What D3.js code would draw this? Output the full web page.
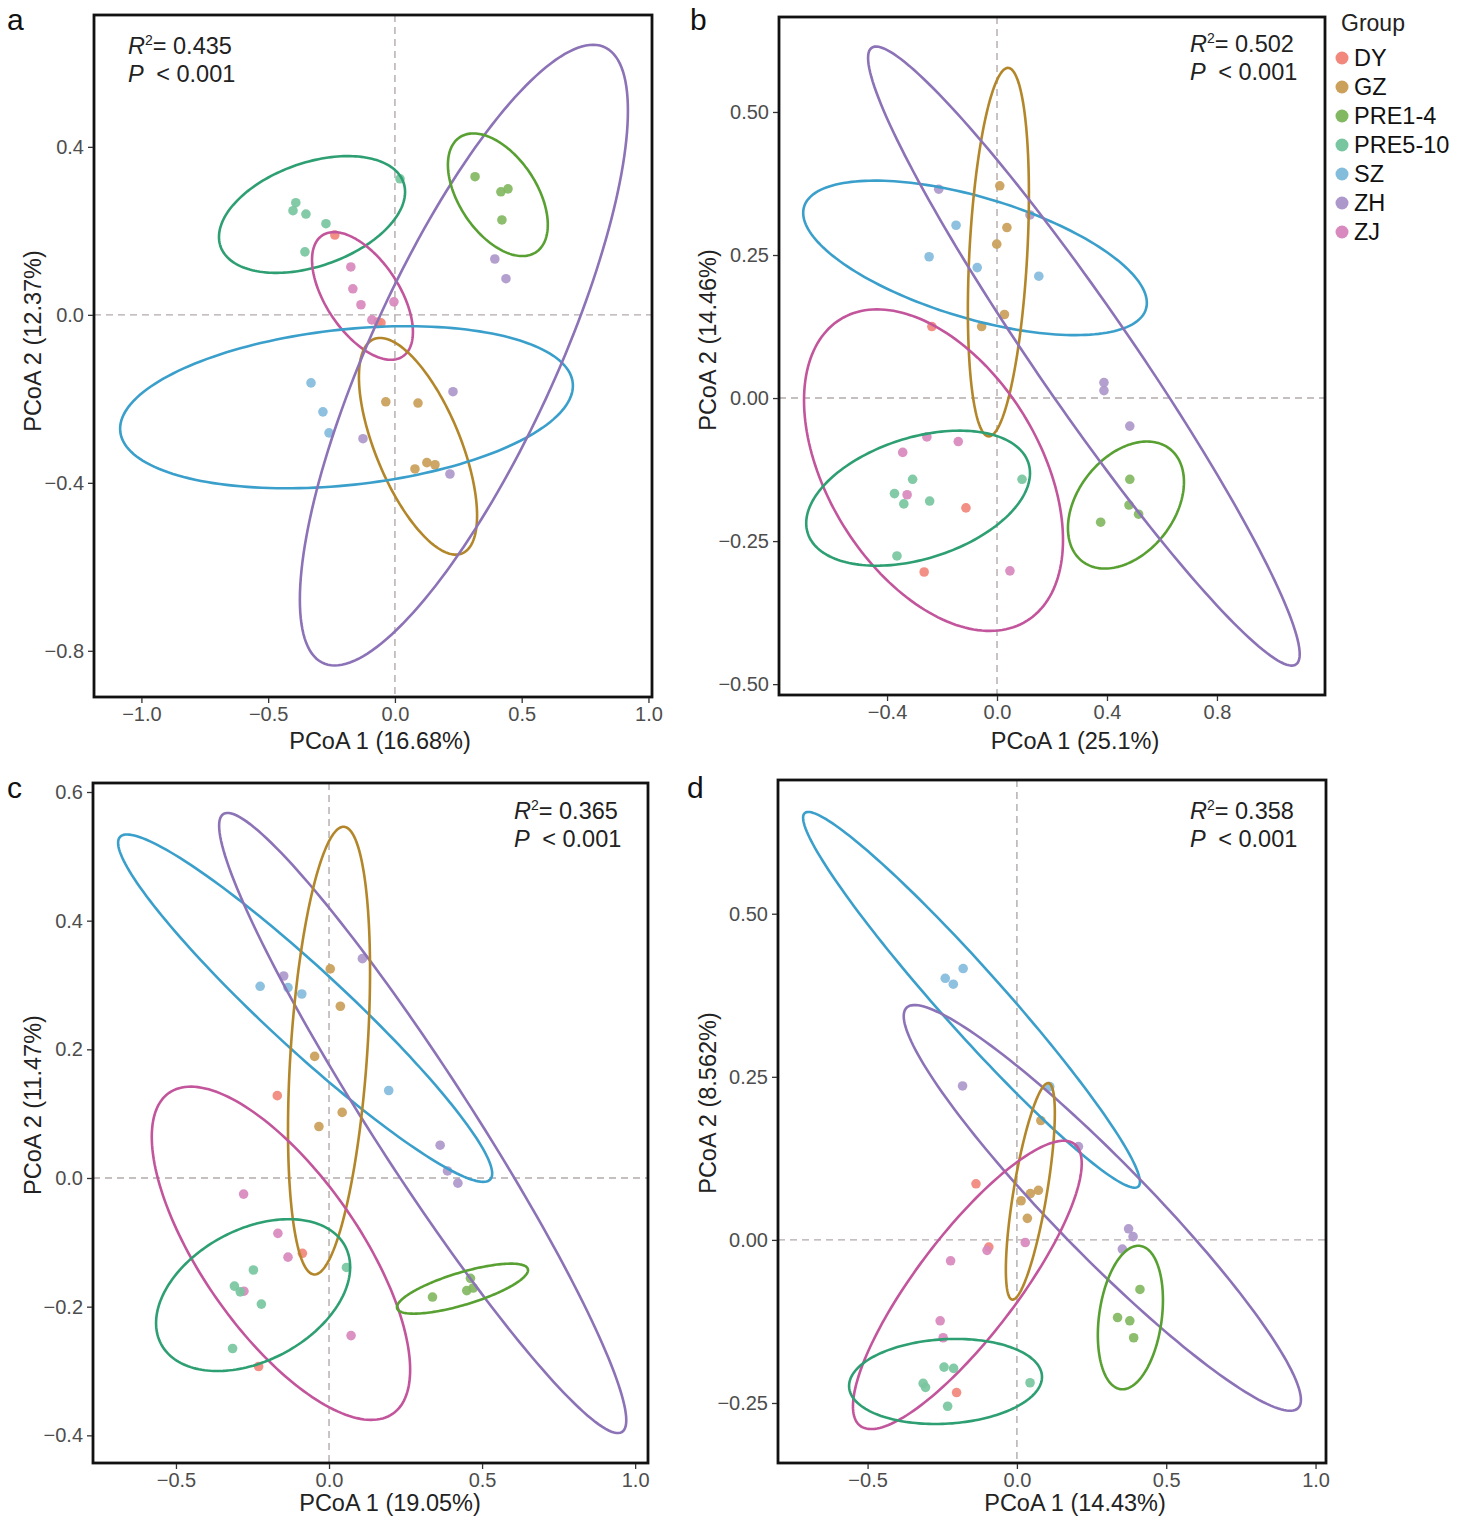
<!DOCTYPE html>
<html>
<head>
<meta charset="utf-8">
<script src="https://cdn.jsdelivr.net/npm/d3@7/dist/d3.min.js"></script>
<style>
  body { margin:0; background:#fff; }
  svg text { font-family: "Liberation Sans", Arial, Helvetica, sans-serif; }
</style>
</head>
<body>
<svg id="chart" width="1470" height="1518"></svg>
<script>
// ---------------- DATA ----------------
const groups = ["DY", "GZ", "PRE1-4", "PRE5-10", "SZ", "ZH", "ZJ"];
const pointColors = ["#F2877B", "#CAA05A", "#82B862", "#78C6A0", "#84BCDC", "#AC98CB", "#D889BE"];
const lineColors  = ["#E8604F", "#B3862A", "#58A032", "#2E9F72", "#3A9FCB", "#8C72B6", "#C2559B"];

const panelLabels = ["a", "b", "c", "d"];
const r2Values = ["0.435", "0.502", "0.365", "0.358"];
const pValues = ["< 0.001", "< 0.001", "< 0.001", "< 0.001"];
const xTitles = ["PCoA 1 (16.68%)", "PCoA 1 (25.1%)", "PCoA 1 (19.05%)", "PCoA 1 (14.43%)"];
const yTitles = ["PCoA 2 (12.37%)", "PCoA 2 (14.46%)", "PCoA 2 (11.47%)", "PCoA 2 (8.562%)"];

const xTicksA = [-1.0, -0.5, 0.0, 0.5, 1.0];
const yTicksA = [-0.8, -0.4, 0.0, 0.4];
const xTicksB = [-0.4, 0.0, 0.4, 0.8];
const yTicksB = [-0.50, -0.25, 0.00, 0.25, 0.50];
const xTicksC = [-0.5, 0.0, 0.5, 1.0];
const yTicksC = [-0.4, -0.2, 0.0, 0.2, 0.4, 0.6];
const xTicksD = [-0.5, 0.0, 0.5, 1.0];
const yTicksD = [-0.25, 0.00, 0.25, 0.50];

// points: [group, PCoA1, PCoA2]
const pointsA = [
  ["PRE5-10",-0.391,0.267],["PRE5-10",-0.402,0.248],["PRE5-10",-0.351,0.240],["PRE5-10",-0.272,0.217],["PRE5-10",-0.355,0.150],["PRE5-10",0.020,0.324],
  ["DY",-0.237,0.190],["DY",-0.067,-0.017],["DY",-0.055,-0.019],
  ["ZJ",-0.174,0.114],["ZJ",-0.166,0.062],["ZJ",-0.134,0.024],["ZJ",-0.004,0.031],["ZJ",-0.091,-0.012],
  ["PRE1-4",0.316,0.329],["PRE1-4",0.418,0.293],["PRE1-4",0.446,0.300],["PRE1-4",0.422,0.226],
  ["ZH",0.394,0.133],["ZH",0.438,0.086],["ZH",0.229,-0.183],["ZH",-0.126,-0.295],["ZH",0.217,-0.379],
  ["SZ",-0.331,-0.162],["SZ",-0.284,-0.231],["SZ",-0.260,-0.281],
  ["GZ",-0.036,-0.207],["GZ",0.091,-0.210],["GZ",0.079,-0.367],["GZ",0.126,-0.352],["GZ",0.158,-0.357]
];
const pointsB = [
  ["ZH",-0.212,0.365],["ZH",0.120,0.320],["ZH",0.389,0.027],["ZH",0.389,0.013],["ZH",0.483,-0.049],
  ["GZ",0.010,0.371],["GZ",0.036,0.298],["GZ",-0.001,0.269],["GZ",0.027,0.146],["GZ",-0.056,0.125],
  ["SZ",-0.149,0.302],["SZ",-0.247,0.247],["SZ",-0.072,0.228],["SZ",0.152,0.213],
  ["DY",-0.237,0.125],["DY",-0.113,-0.192],["DY",-0.265,-0.304],
  ["ZJ",-0.255,-0.068],["ZJ",-0.141,-0.076],["ZJ",-0.343,-0.095],["ZJ",-0.327,-0.169],["ZJ",0.047,-0.302],
  ["PRE5-10",-0.307,-0.142],["PRE5-10",-0.373,-0.167],["PRE5-10",-0.339,-0.185],["PRE5-10",-0.245,-0.180],["PRE5-10",0.091,-0.142],["PRE5-10",-0.364,-0.276],
  ["PRE1-4",0.483,-0.142],["PRE1-4",0.480,-0.187],["PRE1-4",0.515,-0.203],["PRE1-4",0.377,-0.217]
];
const pointsC = [
  ["ZH",0.109,0.341],["ZH",-0.148,0.314],["ZH",0.363,0.051],["ZH",0.387,0.011],["ZH",0.421,-0.008],
  ["GZ",0.004,0.325],["GZ",0.037,0.267],["GZ",-0.047,0.189],["GZ",0.043,0.102],["GZ",-0.033,0.080],
  ["SZ",-0.225,0.298],["SZ",-0.134,0.296],["SZ",-0.089,0.286],["SZ",0.195,0.136],
  ["DY",-0.169,0.128],["DY",-0.087,-0.117],["DY",-0.230,-0.293],
  ["ZJ",-0.279,-0.025],["ZJ",-0.167,-0.086],["ZJ",-0.134,-0.123],["ZJ",-0.278,-0.176],["ZJ",0.072,-0.245],
  ["PRE5-10",-0.247,-0.143],["PRE5-10",-0.309,-0.168],["PRE5-10",-0.290,-0.177],["PRE5-10",-0.221,-0.196],["PRE5-10",0.057,-0.139],["PRE5-10",-0.315,-0.265],
  ["PRE1-4",0.462,-0.156],["PRE1-4",0.450,-0.175],["PRE1-4",0.471,-0.171],["PRE1-4",0.338,-0.185]
];
const pointsD = [
  ["SZ",-0.240,0.401],["SZ",-0.213,0.392],["SZ",-0.180,0.416],["SZ",0.110,0.235],
  ["ZH",-0.182,0.236],["ZH",0.206,0.143],["ZH",0.374,0.017],["ZH",0.389,0.005],["ZH",0.353,-0.014],
  ["GZ",0.080,0.183],["GZ",0.072,0.076],["GZ",0.045,0.071],["GZ",0.014,0.060],["GZ",0.035,0.033],
  ["DY",-0.137,0.086],["DY",-0.094,-0.011],["DY",-0.202,-0.234],
  ["ZJ",0.028,-0.004],["ZJ",-0.100,-0.016],["ZJ",-0.222,-0.032],["ZJ",-0.257,-0.124],["ZJ",-0.247,-0.150],
  ["PRE1-4",0.412,-0.076],["PRE1-4",0.337,-0.119],["PRE1-4",0.378,-0.124],["PRE1-4",0.391,-0.150],
  ["PRE5-10",-0.244,-0.195],["PRE5-10",-0.212,-0.197],["PRE5-10",-0.314,-0.220],["PRE5-10",-0.306,-0.226],["PRE5-10",-0.232,-0.255],["PRE5-10",0.044,-0.219]
];

// confidence ellipses: [group, centreX, centreY, halfWidthX, yOffsetAtRightmost, halfHeightY] (data units)
const ellipsesA = [
  ["PRE5-10",-0.327,0.239,0.367,0.0536,0.139],
  ["ZJ",-0.128,0.045,0.199,-0.0857,0.152],
  ["GZ",0.091,-0.313,0.233,-0.165,0.258],
  ["SZ",-0.191,-0.220,0.893,0.0512,0.193],
  ["ZH",0.272,-0.096,0.647,0.582,0.739],
  ["PRE1-4",0.406,0.286,0.197,-0.0714,0.146]
];
const ellipsesB = [
  ["SZ",-0.080,0.245,0.625,-0.0787,0.135],
  ["GZ",0.005,0.255,0.111,0.101,0.322],
  ["ZJ",-0.231,-0.126,0.471,-0.122,0.281],
  ["PRE5-10",-0.287,-0.175,0.407,0.0437,0.118],
  ["PRE1-4",0.469,-0.187,0.211,0.0402,0.111],
  ["ZH",0.316,0.0734,0.785,-0.521,0.541]
];
const ellipsesC = [
  ["SZ",-0.078,0.264,0.611,-0.257,0.270],
  ["ZH",0.306,0.0855,0.665,-0.462,0.482],
  ["GZ",0.000,0.198,0.134,0.123,0.348],
  ["ZJ",-0.157,-0.117,0.422,-0.181,0.259],
  ["PRE5-10",-0.248,-0.182,0.317,0.0435,0.118],
  ["PRE1-4",0.436,-0.172,0.214,0.0288,0.0389]
];
const ellipsesD = [
  ["SZ",-0.152,0.368,0.564,-0.279,0.288],
  ["ZH",0.286,0.049,0.665,-0.294,0.311],
  ["GZ",0.045,0.0744,0.082,0.120,0.166],
  ["ZJ",-0.166,-0.069,0.383,0.186,0.221],
  ["PRE5-10",-0.239,-0.217,0.323,0.0069,0.0652],
  ["PRE1-4",0.380,-0.119,0.109,0.0268,0.110]
];

// ---------------- LAYOUT ----------------
const panels = [
  { box:[94,15,652,697],  xdom:[-1.187,1.014], ydom:[-0.910,0.714], xt:xTicksA, yt:yTicksA, yf:".1f", xf:".1f",
    pts:pointsA, ell:ellipsesA, lab:[7,30], ann:[128,54], xtp:[380,749], ytp:[33,341] },
  { box:[779,17,1325,695], xdom:[-0.793,1.193], ydom:[-0.519,0.666], xt:xTicksB, yt:yTicksB, yf:".2f", xf:".1f",
    pts:pointsB, ell:ellipsesB, lab:[690,30], ann:[1190,52], xtp:[1075,749], ytp:[708,340] },
  { box:[93,783,648,1463], xdom:[-0.771,1.042], ydom:[-0.443,0.614], xt:xTicksC, yt:yTicksC, yf:".1f", xf:".1f",
    pts:pointsC, ell:ellipsesC, lab:[7,798], ann:[514,819], xtp:[390,1511], ytp:[33,1105] },
  { box:[778,780,1326,1463], xdom:[-0.80,1.035], ydom:[-0.342,0.705], xt:xTicksD, yt:yTicksD, yf:".2f", xf:".1f",
    pts:pointsD, ell:ellipsesD, lab:[687,798], ann:[1190,819], xtp:[1075,1511], ytp:[708,1103] }
];

const svg = d3.select("#chart");
const colOf = g => pointColors[groups.indexOf(g)];
const lineOf = g => lineColors[groups.indexOf(g)];

panels.forEach((p, i) => {
  const [x0, y0, x1, y1] = p.box;
  const x = d3.scaleLinear().domain(p.xdom).range([x0, x1]);
  const y = d3.scaleLinear().domain(p.ydom).range([y1, y0]);
  const g = svg.append("g");

  const clipId = "clip" + i;
  svg.append("clipPath").attr("id", clipId)
    .append("rect").attr("x", x0).attr("y", y0).attr("width", x1 - x0).attr("height", y1 - y0);
  const inner = g.append("g").attr("clip-path", `url(#${clipId})`);

  // zero reference lines
  inner.append("line").attr("x1", x(0)).attr("x2", x(0)).attr("y1", y0).attr("y2", y1)
    .attr("stroke", "#b3aaaa").attr("stroke-width", 1.4).attr("stroke-dasharray", "7,5");
  inner.append("line").attr("y1", y(0)).attr("y2", y(0)).attr("x1", x0).attr("x2", x1)
    .attr("stroke", "#b3aaaa").attr("stroke-width", 1.4).attr("stroke-dasharray", "7,5");

  // points
  inner.selectAll("circle.pt").data(p.pts).enter().append("circle")
    .attr("cx", d => x(d[1])).attr("cy", d => y(d[2])).attr("r", 4.8)
    .attr("fill", d => colOf(d[0])).attr("fill-opacity", 0.92);

  // ellipses
  const line = d3.line().x(d => x(d[0])).y(d => y(d[1])).curve(d3.curveLinearClosed);
  const ts = d3.range(0, 2 * Math.PI, Math.PI / 90);
  p.ell.forEach(e => {
    const [grp, cx, cy, ax, ay, h] = e;
    const dd = Math.sqrt(Math.max(h * h - ay * ay, 0));
    const pts = ts.map(t => [cx + ax * Math.cos(t), cy + ay * Math.cos(t) + dd * Math.sin(t)]);
    inner.append("path").attr("d", line(pts)).attr("fill", "none")
      .attr("stroke", lineOf(grp)).attr("stroke-width", 2.6);
  });

  // frame
  g.append("rect").attr("x", x0).attr("y", y0).attr("width", x1 - x0).attr("height", y1 - y0)
    .attr("fill", "none").attr("stroke", "#111").attr("stroke-width", 2.8);

  // axes
  const xAxis = d3.axisBottom(x).tickValues(p.xt).tickFormat(d3.format(p.xf)).tickSize(5).tickPadding(4);
  const yAxis = d3.axisLeft(y).tickValues(p.yt).tickFormat(d3.format(p.yf)).tickSize(5).tickPadding(4);
  const gx = g.append("g").attr("transform", `translate(0,${y1 + 1})`).call(xAxis);
  const gy = g.append("g").attr("transform", `translate(${x0 - 1},0)`).call(yAxis);
  [gx, gy].forEach(a => {
    a.select(".domain").remove();
    a.selectAll(".tick line").attr("stroke", "#333").attr("stroke-width", 1.3);
    a.selectAll(".tick text").attr("fill", "#4d4d4d").style("font-size", "20px");
  });

  // axis titles
  g.append("text").attr("x", p.xtp[0]).attr("y", p.xtp[1]).attr("text-anchor", "middle")
    .style("font-size", "23.5px").attr("fill", "#222").text(xTitles[i]);
  g.append("text").attr("transform", `translate(${p.ytp[0] + 8},${p.ytp[1]}) rotate(-90)`)
    .attr("text-anchor", "middle").style("font-size", "23.5px").attr("fill", "#222").text(yTitles[i]);

  // panel label
  g.append("text").attr("x", p.lab[0]).attr("y", p.lab[1]).style("font-size", "30px")
    .attr("fill", "#111").text(panelLabels[i]);

  // annotation
  const t1 = g.append("text").attr("x", p.ann[0]).attr("y", p.ann[1]).style("font-size", "23.5px").attr("fill", "#222");
  t1.append("tspan").style("font-style", "italic").text("R");
  t1.append("tspan").attr("dy", -9).style("font-size", "14px").text("2");
  t1.append("tspan").attr("dy", 9).text("= " + r2Values[i]);
  const t2 = g.append("text").attr("x", p.ann[0]).attr("y", p.ann[1] + 28).style("font-size", "23.5px").attr("fill", "#222");
  t2.append("tspan").style("font-style", "italic").text("P");
  t2.append("tspan").attr("dx", 6).text(" " + pValues[i]);
});

// legend
const lg = svg.append("g");
lg.append("text").attr("x", 1341).attr("y", 31).style("font-size", "23px").attr("fill", "#222").text("Group");
groups.forEach((gname, k) => {
  const cy = 58 + k * 29;
  lg.append("circle").attr("cx", 1342).attr("cy", cy).attr("r", 6.5).attr("fill", pointColors[k]);
  lg.append("text").attr("x", 1354).attr("y", cy + 8).style("font-size", "23.5px").attr("fill", "#111").text(gname);
});
</script>
</body>
</html>
